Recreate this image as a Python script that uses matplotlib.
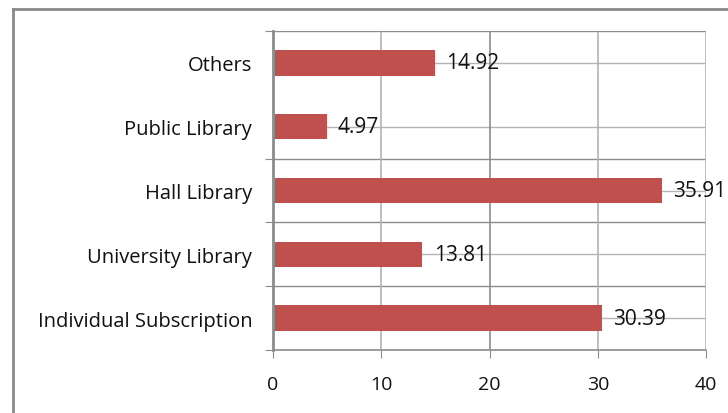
import numpy as np
import matplotlib.pyplot as plt
from matplotlib.lines import Line2D

categories = ['Individual Subscription', 'University Library', 'Hall Library',
              'Public Library', 'Others']
values = [30.39, 13.81, 35.91, 4.97, 14.92]
xticks = [0, 10, 20, 30, 40]

bar_color = '#C0504D'
dark_grid = '#8C8C8C'
light_grid = '#B4B4B4'

plt.rcParams['font.family'] = ['Open Sans', 'DejaVu Sans']

fig = plt.figure(figsize=(7.28, 4.14), dpi=100)
ax = fig.add_axes([273 / 728, 1 - 351 / 414, (706 - 273) / 728, (351 - 32) / 414])

y = np.arange(len(categories))
ax.set_ylim(-0.5, len(categories) - 0.5)
ax.set_xlim(xticks[0], xticks[-1])

# light lines through bar centres, dark lines on category boundaries
for yi in y:
    ax.axhline(yi, color=light_grid, lw=1, zorder=0)
bounds = [0.5, 1.5, 2.5, 4.5]   # no line between Public Library and Others
for b in bounds:
    ax.axhline(b, color=dark_grid, lw=1, zorder=0)

for xv in xticks[1:]:
    c = dark_grid if xv == 20 else light_grid
    ax.axvline(xv, color=c, lw=1.2, zorder=0)

ax.barh(y, values, height=0.4, color=bar_color, zorder=2)

for yi, v in zip(y, values):
    ax.annotate(f'{v:.2f}', xy=(v, yi), xytext=(8, 0), textcoords='offset points',
                va='center', ha='left', fontsize=15, color='#111111',
                annotation_clip=False, zorder=3)

ax.set_yticks([b for b in [-0.5] + bounds])
ax.set_yticklabels([])
ax.set_yticks(y, minor=True)
ax.set_yticklabels(categories, minor=True)
ax.tick_params(axis='y', which='major', length=6, color=dark_grid, direction='out')
ax.tick_params(axis='y', which='minor', length=0, pad=15, labelsize=14.5, labelcolor='#111111')

ax.set_xticks(xticks)
ax.set_xticklabels([str(t) for t in xticks])
ax.tick_params(axis='x', length=6, color=dark_grid, pad=12, labelsize=14, labelcolor='#111111')

for side in ['top', 'right']:
    ax.spines[side].set_visible(False)
ax.spines['left'].set_color(dark_grid)
ax.spines['left'].set_linewidth(2)
ax.spines['bottom'].set_color(dark_grid)
ax.spines['bottom'].set_linewidth(1.2)
ax.axhline(len(categories) - 0.5, color=dark_grid, lw=1.2, zorder=0)

# outer chart border (only top and left visible in the crop)
fig.add_artist(Line2D([13 / 728, 13 / 728], [0, 1 - 10 / 414], color='#8A8A8A', lw=2))
fig.add_artist(Line2D([13 / 728, 1], [1 - 10 / 414, 1 - 10 / 414], color='#8A8A8A', lw=2))

fig.savefig('out.png', dpi=100)
